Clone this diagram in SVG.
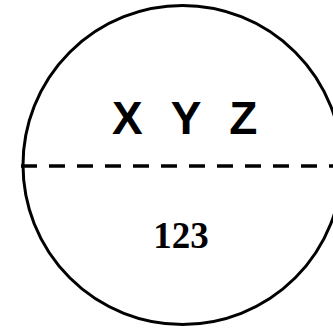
<svg xmlns="http://www.w3.org/2000/svg" width="333" height="328" viewBox="0 0 333 328">
<style>
.outline{fill:#fff;stroke:#000;stroke-width:3}
.div{stroke:#000;stroke-width:3.5;stroke-dasharray:16 12;fill:none}
.t1{font-family:"Liberation Sans",Arial,sans-serif;font-weight:bold;font-size:46px;letter-spacing:8px}
.t2{font-family:"Liberation Serif","Times New Roman",serif;font-weight:bold;font-size:37px}
</style>
<rect width="333" height="328" fill="#fff"/>
<g id="node-circle">
<circle class="outline" cx="182.5" cy="165" r="159.5"/>
<text class="t1" x="112" y="134">X Y Z</text>
<text class="t2" x="181" y="248" text-anchor="middle">123</text>
</g>
<g id="connectors">
<line class="div" x1="21" y1="166" x2="345" y2="166"/>
</g>
</svg>
